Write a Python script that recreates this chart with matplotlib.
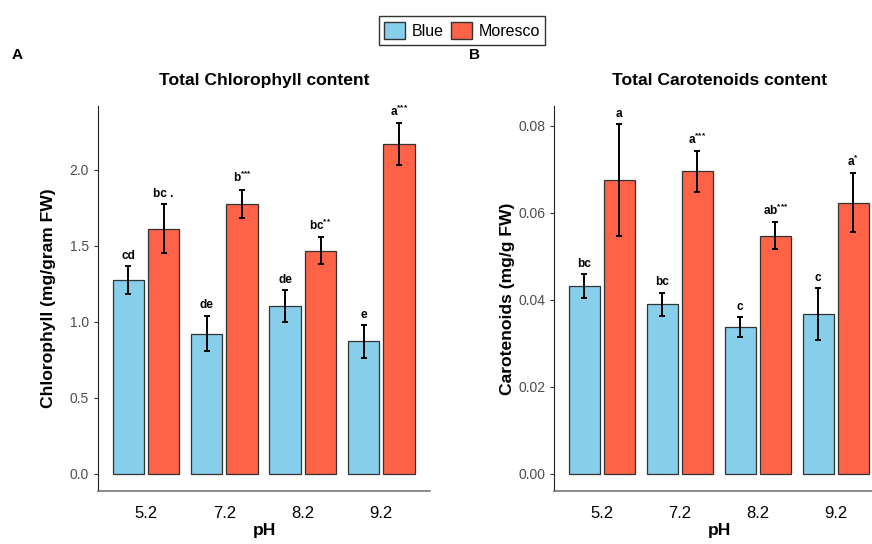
import numpy as np
import matplotlib
matplotlib.use("Agg")
import matplotlib.pyplot as plt
from matplotlib.patches import Patch

plt.rcParams["font.family"] = ["Liberation Sans", "DejaVu Sans"]
plt.rcParams["mathtext.fontset"] = "custom"
plt.rcParams["mathtext.rm"] = "Liberation Sans:bold"
plt.rcParams["mathtext.bf"] = "Liberation Sans:bold"

ph = ["5.2", "7.2", "8.2", "9.2"]
varieties = ["Blue", "Moresco"]
colors = {"Blue": "#87CEEB", "Moresco": "#FF6347"}

chl_blue = [1.275, 0.922, 1.103, 0.870]
chl_blue_se = [0.090, 0.118, 0.105, 0.110]
chl_mor = [1.612, 1.775, 1.467, 2.170]
chl_mor_se = [0.163, 0.095, 0.090, 0.136]
chl_blue_lab = ["cd", "de", "de", "e"]
chl_mor_lab = ["bc", "b", "bc", "a"]
chl_mor_sig = [" .", "***", "**", "***"]

car_blue = [0.0431, 0.0389, 0.0337, 0.0366]
car_blue_se = [0.0027, 0.0027, 0.0022, 0.0060]
car_mor = [0.0675, 0.0695, 0.0547, 0.0623]
car_mor_se = [0.0128, 0.0047, 0.0031, 0.0067]
car_blue_lab = ["bc", "bc", "c", "c"]
car_mor_lab = ["a", "a", "ab", "a"]
car_mor_sig = ["", "***", "***", "*"]


def fmt(letter, sig):
    # stars as a superscript, plain text otherwise
    if sig.startswith("*"):
        stars = "".join("{*}" for _ in sig)
        return r"$\mathbf{%s}^{%s}$" % (letter, stars)
    return letter + sig


def panel(ax, blue, blue_se, mor, mor_se, blab, mlab, msig, ylim, yticks, yfmt, ylabel, title,
          ylabelpad):
    x = np.arange(1, len(ph) + 1)
    series = [(blue, blue_se, [fmt(l, "") for l in blab], -0.225, "Blue"),
              (mor, mor_se, [fmt(l, s) for l, s in zip(mlab, msig)], 0.225, "Moresco")]
    for vals, se, labs, off, name in series:
        ax.bar(x + off, vals, width=0.4, color=colors[name], edgecolor="#333333", linewidth=0.9)
        ax.errorbar(x + off, vals, yerr=se, fmt="none", ecolor="black", elinewidth=1.4,
                    capsize=2.2, capthick=1.4)
        for xi, v, e, lab in zip(x + off, vals, se, labs):
            ax.annotate(lab, (xi, v + e), xytext=(0, 3), textcoords="offset points",
                        ha="center", va="bottom", fontsize=8.5, fontweight="bold")
    ax.set_xlim(0.39, 4.62)
    ax.set_ylim(*ylim)
    ax.set_xticks(x)
    ax.set_xticklabels(ph)
    ax.set_yticks(yticks)
    ax.set_yticklabels([yfmt.format(t) for t in yticks])
    ax.tick_params(axis="y", labelsize=10, labelcolor="#4d4d4d", color="#333333", length=3)
    ax.tick_params(axis="x", labelsize=12, labelcolor="black", length=0, pad=11)
    for s in ["top", "right"]:
        ax.spines[s].set_visible(False)
    ax.spines["left"].set_color("#222222")
    ax.spines["bottom"].set_color("#777777")
    ax.spines["bottom"].set_linewidth(1.2)
    ax.set_xlabel("pH", fontsize=12.6, fontweight="bold", labelpad=1)
    ax.set_ylabel(ylabel, fontsize=12.6, fontweight="bold", labelpad=ylabelpad)
    ax.set_title(title, fontsize=12.6, fontweight="bold", pad=15)


fig = plt.figure(figsize=(8.72, 5.44), dpi=100)
ax1 = fig.add_axes([98 / 872, 1 - 491 / 544, 332 / 872, 385 / 544])
ax2 = fig.add_axes([554.3 / 872, 1 - 491 / 544, 329.7 / 872, 385 / 544])

panel(ax1, chl_blue, chl_blue_se, chl_mor, chl_mor_se, chl_blue_lab, chl_mor_lab, chl_mor_sig,
      (-0.115, 2.42), [0.0, 0.5, 1.0, 1.5, 2.0], "{:.1f}", "Chlorophyll (mg/gram FW)",
      "Total Chlorophyll content", 10)
panel(ax2, car_blue, car_blue_se, car_mor, car_mor_se, car_blue_lab, car_mor_lab, car_mor_sig,
      (-0.004, 0.0845), [0.0, 0.02, 0.04, 0.06, 0.08], "{:.2f}", "Carotenoids (mg/g FW)",
      "Total Carotenoids content", 2)

fig.text(17 / 872, 1 - 55 / 544, "A", fontsize=11, fontweight="bold", ha="center", va="center")
fig.text(474 / 872, 1 - 55 / 544, "B", fontsize=11, fontweight="bold", ha="center", va="center")

handles = [Patch(facecolor=colors[v], edgecolor="#333333", label=v) for v in varieties]
leg = fig.legend(handles=handles, loc="upper center", bbox_to_anchor=(462 / 872, 1 - 8 / 544),
                 ncol=2, fontsize=11.5, frameon=True, fancybox=False, handlelength=1.3,
                 handleheight=1.3, handletextpad=0.4, columnspacing=0.5, borderpad=0.35)
leg.get_frame().set_edgecolor("black")
leg.get_frame().set_linewidth(1.0)

fig.savefig("out.png", dpi=100, facecolor="white")
